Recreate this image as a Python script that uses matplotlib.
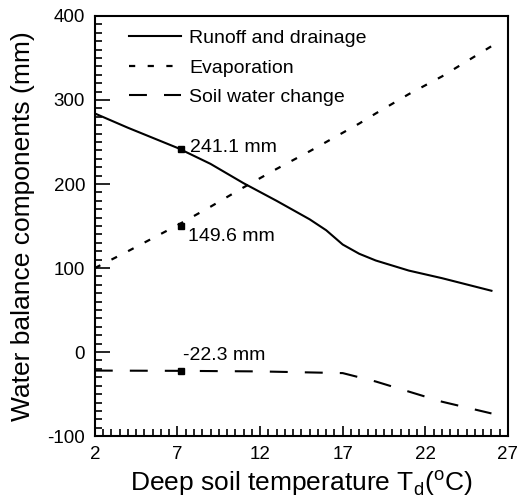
import matplotlib.pyplot as plt
from matplotlib.ticker import MultipleLocator

plt.rcParams['font.family'] = ['Liberation Sans', 'DejaVu Sans']
plt.rcParams['axes.unicode_minus'] = False
plt.rcParams['mathtext.fontset'] = 'custom'
plt.rcParams['mathtext.rm'] = 'Liberation Sans'

# data
temp = [2, 4, 7, 9, 11, 13, 15, 16, 17, 18, 19, 21, 23, 26]
runoff = [284, 267, 243, 224, 201, 180, 158, 145, 128, 117, 109, 97, 88, 73]
evap = [100, 120, 151, 173, 196, 218, 239, 250, 261, 272, 284, 307, 328, 364]
soil_temp = [2, 7, 12, 17, 19, 21, 23, 26]
soil = [-22, -22.3, -23, -25, -35, -47, -59, -73]

obs_temp = 7.2
obs_values = [241.1, 149.6, -22.3]
obs_labels = ["241.1 mm", "149.6 mm", "-22.3 mm"]
label_pos = [(7.75, 243), (7.65, 138), (7.35, -4)]

fig = plt.figure(figsize=(5.21, 4.99), dpi=100)
ax = fig.add_axes([0.182, 0.126, 0.793, 0.842])

ax.plot(temp, runoff, color="black", lw=1.5, label="Runoff and drainage")
ax.plot(temp, evap, color="black", lw=1.6, dashes=(2.8, 5.6), label="Evaporation")
ax.plot(soil_temp, soil, color="black", lw=1.5, dashes=(8.6, 8.2), label="Soil water change")

# observed values at the site
ax.plot([obs_temp] * 3, obs_values, "s", color="black", ms=5)
for lab, (tx, ty) in zip(obs_labels, label_pos):
    ax.text(tx, ty, lab, fontsize=14, va="center", ha="left")

ax.set_xlim(2, 27)
ax.set_ylim(-100, 400)
ax.set_xticks([2, 7, 12, 17, 22, 27])
ax.set_yticks([-100, 0, 100, 200, 300, 400])
ax.xaxis.set_minor_locator(MultipleLocator(0.5))
ax.yaxis.set_minor_locator(MultipleLocator(10))
ax.tick_params(which="both", direction="in", top=False, right=False,
               labelsize=13.5, width=1.2, color="black")
ax.tick_params(axis="y", which="major", length=11, pad=7)
ax.tick_params(axis="y", which="minor", length=5)
ax.tick_params(axis="x", which="major", length=7, pad=7)
ax.tick_params(axis="x", which="minor", length=5)
for s in ax.spines.values():
    s.set_linewidth(1.5)

ax.set_xlabel(r"Deep soil temperature T$_\mathregular{d}$($^\mathregular{o}$C)", fontsize=19, labelpad=4)
ax.set_ylabel("Water balance components (mm)", fontsize=19, labelpad=9)

ax.legend(loc="upper left", bbox_to_anchor=(0.04, 1.01), frameon=False, fontsize=14,
          handlelength=2.7, labelspacing=0.62, handletextpad=0.4)

fig.savefig("out.png", dpi=100)
